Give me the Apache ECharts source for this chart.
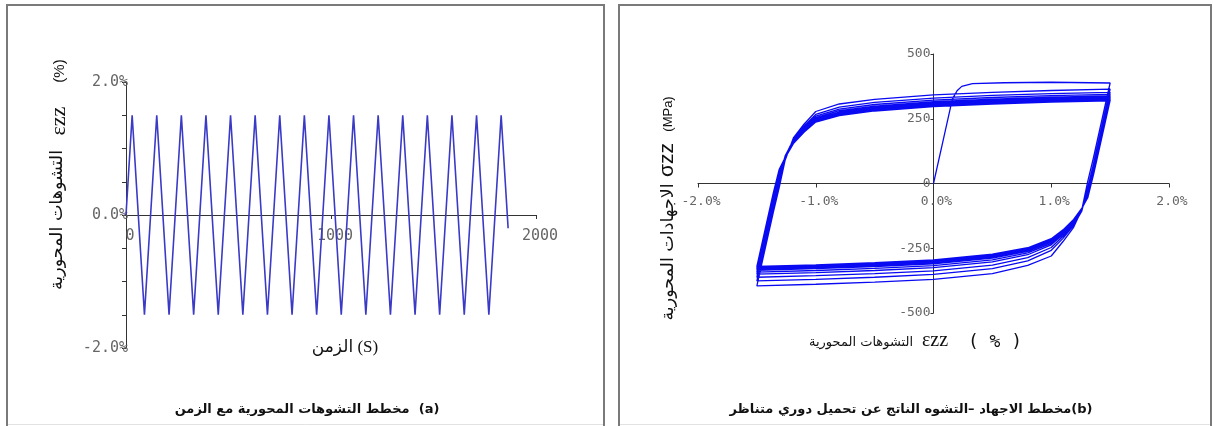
<!DOCTYPE html>
<html>
<head>
<meta charset="utf-8">
<script src="https://cdn.jsdelivr.net/npm/echarts@6/dist/echarts.min.js"></script>
<style>
  html, body { margin: 0; padding: 0; background: #ffffff; }
  #chart { width: 1213px; height: 426px; }
</style>
</head>
<body>
<div id="chart"></div>
<script>
// ---------- (a) axial strain against time: vertices of the cyclic strain history ----------
const TIME_S = [0, 30, 90, 150, 210, 270, 330, 390, 450, 510, 570, 630, 690, 750, 810, 870,
  930, 990, 1050, 1110, 1170, 1230, 1290, 1350, 1410, 1470, 1530, 1590, 1650, 1710, 1770, 1830, 1864];
const STRAIN_PCT = [0, 1.5, -1.5, 1.5, -1.5, 1.5, -1.5, 1.5, -1.5, 1.5, -1.5, 1.5, -1.5, 1.5, -1.5, 1.5,
  -1.5, 1.5, -1.5, 1.5, -1.5, 1.5, -1.5, 1.5, -1.5, 1.5, -1.5, 1.5, -1.5, 1.5, -1.5, 1.5, -0.2];

const TIME_TICK_LABELS = ['0', '1000', '2000'];
const STRAIN_TICK_LABELS = { '-2': '-2.0%', '0': '0.0%', '2': '2.0%' };

// ---------- (b) stress-strain loops under symmetric strain cycling ----------
// first (monotonic) loading branch
const INITIAL_STRAIN = [0, 0.08, 0.16, 0.20, 0.24, 0.33, 0.60, 1.00, 1.50];
const INITIAL_STRESS = [0, 163, 326, 358, 375, 386, 389, 391, 388];

// strain stations shared by the unloading (down) and reloading (up) branches
const DOWN_STRAIN = [1.50, 1.42, 1.36, 1.31, 1.26, 1.19, 1.10, 1.00, 0.80, 0.50, 0.00, -0.50, -1.00, -1.50];
const UP_STRAIN = [-1.50, -1.42, -1.36, -1.31, -1.26, -1.19, -1.10, -1.00, -0.80, -0.50, 0.00, 0.50, 1.00, 1.50];

// stress (MPa) on each down branch, cycle by cycle
const DOWN_STRESS = [
  [388, 225, 103, 8, -100, -169, -224, -280, -316, -348, -370, -381, -389, -395],
  [364, 201, 79, -16, -106, -162, -212, -258, -299, -329, -351, -362, -370, -376],
  [352, 189, 67, -28, -103, -156, -204, -247, -286, -315, -337, -348, -356, -362],
  [344, 181, 59, -36, -101, -151, -197, -237, -275, -303, -325, -336, -344, -350],
  [338, 175, 53, -42, -99, -148, -192, -231, -268, -295, -317, -328, -336, -342],
  [333, 170, 48, -47, -98, -145, -188, -225, -262, -288, -310, -321, -329, -335],
  [329, 166, 44, -51, -97, -143, -185, -221, -257, -283, -305, -316, -324, -330],
  [326, 163, 41, -54, -96, -142, -182, -218, -254, -279, -301, -312, -320, -326],
  [323, 160, 38, -55, -95, -140, -180, -215, -250, -275, -297, -308, -316, -322],
  [321, 158, 36, -55, -95, -139, -179, -213, -248, -273, -295, -306, -314, -320]
];

// stress (MPa) on each up branch, cycle by cycle
const UP_STRESS = [
  [-395, -232, -110, -15, 90, 176, 229, 278, 307, 325, 342, 352, 359, 364],
  [-376, -213, -91, 4, 105, 170, 221, 267, 295, 313, 330, 340, 347, 352],
  [-362, -199, -77, 18, 107, 166, 215, 260, 287, 305, 322, 332, 339, 344],
  [-350, -187, -65, 30, 105, 163, 211, 254, 281, 299, 316, 326, 333, 338],
  [-342, -179, -57, 38, 103, 161, 208, 250, 276, 294, 311, 321, 328, 333],
  [-335, -172, -50, 45, 102, 159, 205, 246, 272, 290, 307, 317, 324, 329],
  [-330, -167, -45, 50, 101, 157, 203, 244, 269, 287, 304, 314, 321, 326],
  [-326, -163, -41, 54, 100, 156, 201, 241, 266, 284, 301, 311, 318, 323],
  [-322, -159, -37, 55, 100, 155, 199, 239, 264, 282, 299, 309, 316, 321],
  [-320, -157, -35, 55, 99, 154, 198, 237, 262, 280, 297, 307, 314, 319]
];

const STRESS_TICK_LABELS = ['-500', '-250', '0', '250', '500'];
const STRAIN_B_TICK_LABELS = ['-2.0%', '-1.0%', '0.0%', '1.0%', '2.0%'];

// ---------- assemble point lists ----------
const seriesA = TIME_S.map((t, i) => [t, STRAIN_PCT[i]]);

const seriesB = INITIAL_STRAIN.map((e, i) => [e, INITIAL_STRESS[i]]);
for (let c = 0; c < DOWN_STRESS.length; c++) {
  DOWN_STRAIN.forEach((e, i) => seriesB.push([e, DOWN_STRESS[c][i]]));
  UP_STRAIN.forEach((e, i) => seriesB.push([e, UP_STRESS[c][i]]));
}

// ---------- plot boxes; the axes are drawn through the origin ----------
const GRID_A = { left: 126, top: 82, width: 410, height: 266 };
const GRID_B = { left: 698, top: 54, width: 471, height: 259 };

const AXIS_COLOR = '#333333';
const TICK_FONT = '"DejaVu Sans Mono", "Liberation Mono", monospace';
const AR_FONT = '"DejaVu Sans", sans-serif';

function axisBase(extra) {
  return Object.assign({
    type: 'value',
    axisLine: { show: true, onZero: false, lineStyle: { color: AXIS_COLOR, width: 1 } },
    axisTick: { show: true, length: 4, lineStyle: { color: AXIS_COLOR } },
    splitLine: { show: false },
    minorTick: { show: false }
  }, extra);
}

function txt(x, y, text, font, opts) {
  opts = opts || {};
  return {
    type: 'text', x: x, y: y, rotation: opts.rotation || 0, silent: true, z: 10,
    style: {
      text: text, font: font, fill: opts.fill || '#111111',
      align: 'center', verticalAlign: 'middle',
      textAlign: 'center', textVerticalAlign: 'middle'
    }
  };
}

const chart = echarts.init(document.getElementById('chart'), null, { renderer: 'canvas' });

chart.setOption({
  animation: false,
  backgroundColor: '#ffffff',
  grid: [GRID_A, GRID_B],
  xAxis: [
    axisBase({
      gridIndex: 0, min: 0, max: 2000, interval: 1000, position: 'bottom',
      offset: -GRID_A.height / 2,
      axisLabel: {
        margin: 14, color: '#666666', fontFamily: TICK_FONT, fontSize: 15, padding: [0, 0, 0, 8],
        formatter: v => TIME_TICK_LABELS[Math.round(v / 1000)]
      }
    }),
    axisBase({
      gridIndex: 1, min: -2, max: 2, interval: 1, position: 'bottom',
      offset: -GRID_B.height / 2,
      axisLabel: {
        margin: 12, color: '#666666', fontFamily: TICK_FONT, fontSize: 13, padding: [0, 0, 0, 6],
        formatter: v => STRAIN_B_TICK_LABELS[Math.round(v + 2)]
      }
    })
  ],
  yAxis: [
    axisBase({
      gridIndex: 0, min: -2, max: 2, interval: 0.5, position: 'left',
      axisLabel: {
        margin: -2, color: '#666666', fontFamily: TICK_FONT, fontSize: 15,
        formatter: v => STRAIN_TICK_LABELS[String(v)] || ''
      }
    }),
    axisBase({
      gridIndex: 1, min: -500, max: 500, interval: 250, position: 'left',
      offset: -GRID_B.width / 2,
      axisTick: { show: true, length: 3, lineStyle: { color: AXIS_COLOR } },
      axisLabel: {
        margin: 3, color: '#666666', fontFamily: TICK_FONT, fontSize: 13,
        formatter: v => STRESS_TICK_LABELS[Math.round(v / 250) + 2]
      }
    })
  ],
  series: [
    {
      type: 'line', xAxisIndex: 0, yAxisIndex: 0, data: seriesA,
      showSymbol: false, symbol: 'none', smooth: false,
      lineStyle: { color: '#3a3ac6', width: 1.6 }
    },
    {
      type: 'line', xAxisIndex: 1, yAxisIndex: 1, data: seriesB,
      showSymbol: false, symbol: 'none', smooth: false,
      lineStyle: { color: '#0a0af2', width: 1.3 }
    }
  ],
  graphic: [
    // panel frames
    { type: 'rect', silent: true, shape: { x: 7, y: 5, width: 597, height: 430 },
      style: { fill: 'none', stroke: '#7a7a7a', lineWidth: 2 } },
    { type: 'rect', silent: true, shape: { x: 619, y: 5, width: 592, height: 430 },
      style: { fill: 'none', stroke: '#7a7a7a', lineWidth: 2 } },
    { type: 'line', silent: true, shape: { x1: 8, y1: 424.5, x2: 603, y2: 424.5 },
      style: { stroke: '#e2e2e2', lineWidth: 1 } },
    { type: 'line', silent: true, shape: { x1: 620, y1: 424.5, x2: 1210, y2: 424.5 },
      style: { stroke: '#e2e2e2', lineWidth: 1 } },

    // (a) axis names
    txt(57, 220, 'التشوهات المحورية', '17.5px ' + AR_FONT, { rotation: Math.PI / 2 }),
    txt(59, 121, 'εzz', '22px "Liberation Serif", serif', { rotation: Math.PI / 2 }),
    txt(60, 71, '(%)', '15px "Liberation Sans", sans-serif', { rotation: Math.PI / 2 }),
    txt(345, 348, 'الزمن (S)', '17px "Liberation Serif", ' + AR_FONT),
    // (a) caption
    txt(307, 410, 'مخطط التشوهات المحورية مع الزمن  (a)', 'bold 13px ' + AR_FONT),

    // (b) axis names
    txt(668, 252, 'الاجهادات المحورية', '17.5px ' + AR_FONT, { rotation: Math.PI / 2 }),
    txt(667, 160, 'σzz', '21px "Liberation Sans", sans-serif', { rotation: Math.PI / 2 }),
    txt(668, 114, '(MPa)', '13px "Liberation Sans", sans-serif', { rotation: Math.PI / 2 }),
    txt(861, 343, 'التشوهات المحورية', '13px ' + AR_FONT),
    txt(935, 341, 'εzz', '20px "Liberation Serif", serif'),
    txt(995, 342, '( % )', '18px "DejaVu Sans Mono", monospace'),
    // (b) caption
    txt(911, 410, 'مخطط الاجهاد –التشوه الناتج عن تحميل دوري متناظر(b)', 'bold 13px ' + AR_FONT)
  ]
});
</script>
</body>
</html>
